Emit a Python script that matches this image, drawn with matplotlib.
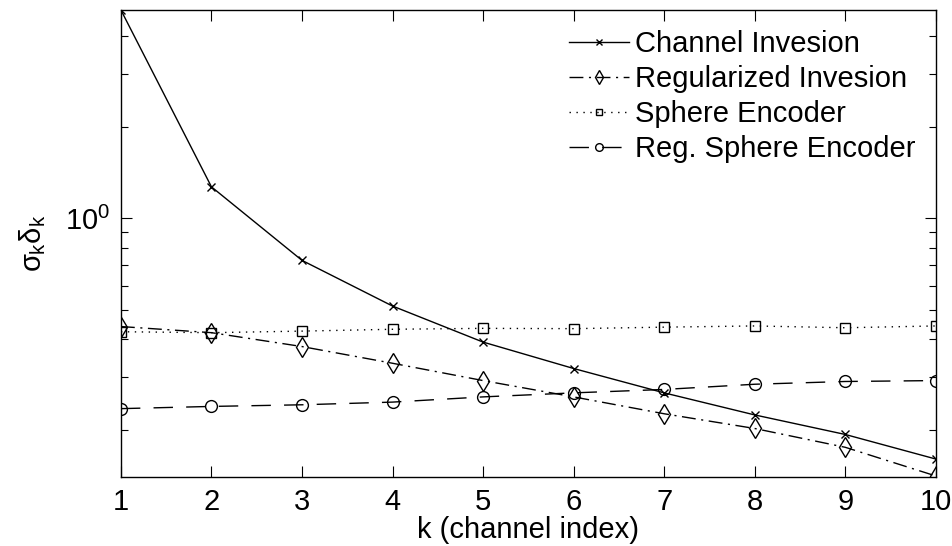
import numpy as np
import matplotlib
matplotlib.use("Agg")
import matplotlib.pyplot as plt
from matplotlib.ticker import LogLocator, FixedLocator, NullFormatter

# ---------------------------
# Data
# ---------------------------
k = [1, 2, 3, 4, 5, 6, 7, 8, 9, 10]

channel_inv = [4.86, 1.27, 0.727, 0.514, 0.391, 0.320, 0.266, 0.225, 0.194, 0.161]
regularized_inv = [0.440, 0.420, 0.378, 0.333, 0.292, 0.258, 0.227, 0.203, 0.176, 0.1416]
sphere_enc = [0.423, 0.420, 0.425, 0.431, 0.434, 0.433, 0.438, 0.442, 0.436, 0.442]
reg_sphere_enc = [0.236, 0.240, 0.243, 0.248, 0.258, 0.266, 0.273, 0.284, 0.290, 0.292]

labels = ["Channel Invesion", "Regularized Invesion",
          "Sphere Encoder", "Reg. Sphere Encoder"]

# ---------------------------
# Style
# ---------------------------
plt.rcParams['font.family'] = ['Liberation Sans', 'DejaVu Sans']
plt.rcParams['mathtext.fontset'] = 'custom'
plt.rcParams['mathtext.rm'] = 'Liberation Sans'
plt.rcParams['mathtext.it'] = 'Liberation Sans'
plt.rcParams['mathtext.bf'] = 'Liberation Sans:bold'
plt.rcParams['font.size'] = 21

fig = plt.figure(figsize=(9.52, 5.46), dpi=100)
ax = fig.add_axes([0.127, 0.1264, 0.856, 0.8553])

lw = 1.0
ax.plot(k, channel_inv, color='k', lw=lw, ls='-', marker='x',
        ms=6, mew=1.0, label=labels[0])
ax.plot(k, regularized_inv, color='k', lw=lw, marker='d', ms=10.5,
        mfc='none', mew=1.0, dashes=(10, 4, 1.5, 4), label=labels[1])
ax.plot(k, sphere_enc, color='k', lw=lw, marker='s', ms=7,
        mfc='none', mew=1.0, dashes=(1, 4), label=labels[2])
ax.plot(k, reg_sphere_enc, color='k', lw=lw, marker='o', ms=8.5,
        mfc='none', mew=1.0, dashes=(14, 9.5), label=labels[3])

ax.set_yscale('log')
ax.set_xlim(1, 10)
ax.set_ylim(0.1405, 4.86)
ax.set_xticks(k)
ax.yaxis.set_major_locator(FixedLocator([1.0]))
ax.set_yticklabels([r'$10^0$'])
ax.yaxis.set_minor_locator(LogLocator(base=10, subs=np.arange(2, 10)))
ax.yaxis.set_minor_formatter(NullFormatter())

ax.tick_params(which='both', direction='in', top=True, right=True, width=0.8)
ax.tick_params(which='major', length=8, pad=8)
ax.tick_params(which='minor', length=5)
for s in ax.spines.values():
    s.set_linewidth(1.0)

ax.set_xlabel("k (channel index)", labelpad=0)
ax.set_ylabel(r'$\sigma_k\delta_k$', labelpad=12)

leg = ax.legend(loc='upper right', frameon=False, handlelength=2.05,
                handletextpad=0.2, labelspacing=0.24, borderaxespad=0.3,
                markerscale=0.65)

fig.savefig("out.png", dpi=100)
